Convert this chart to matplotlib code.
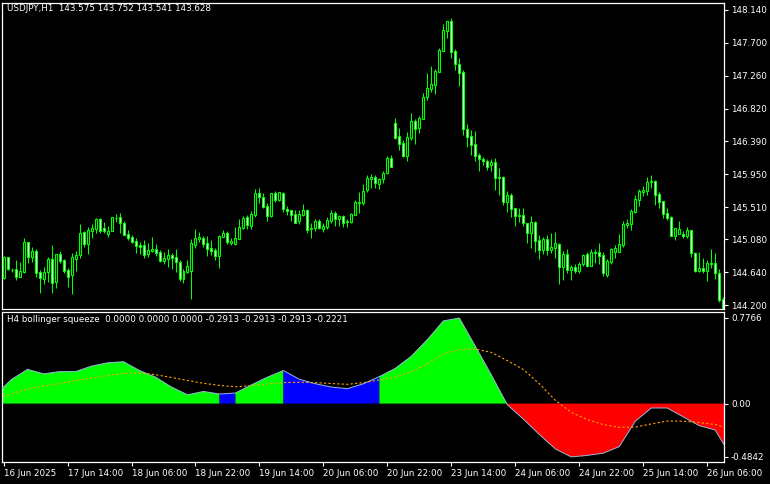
import numpy as np
import matplotlib.pyplot as plt

# ---------------- price data (USDJPY H1) ----------------
opens = [144.57, 144.85, 144.67, 144.69, 144.58, 144.65, 145.05, 144.85, 144.93, 144.65,
         144.55, 144.65, 144.82, 144.51, 144.89, 144.81, 144.67, 144.61, 144.82, 144.87,
         145.18, 145.02, 145.19, 145.22, 145.35, 145.23, 145.15, 145.19, 145.37, 145.38,
         145.30, 145.15, 145.11, 145.06, 145.01, 145.01, 144.89, 144.93, 144.95, 144.91,
         144.79, 144.82, 144.87, 144.85, 144.78, 144.55, 144.65, 144.66, 145.01, 145.09,
         145.10, 145.03, 144.97, 144.94, 144.86, 145.11, 145.17, 145.03, 145.02, 145.09,
         145.23, 145.38, 145.26, 145.41, 145.70, 145.65, 145.53, 145.39, 145.70, 145.61,
         145.70, 145.49, 145.47, 145.42, 145.33, 145.41, 145.47, 145.22, 145.23, 145.33,
         145.22, 145.25, 145.33, 145.43, 145.35, 145.39, 145.31, 145.31, 145.41, 145.57,
         145.57, 145.74, 145.89, 145.91, 145.82, 145.89, 145.97, 146.17, 146.63, 146.46,
         146.37, 146.19, 146.43, 146.66, 146.57, 146.69, 146.98, 147.09, 147.14, 147.31,
         147.59, 147.86, 147.99, 147.59, 147.42, 147.31, 146.55, 146.46, 146.35, 146.21,
         146.15, 146.13, 146.07, 146.11, 145.91, 145.91, 145.58, 145.67, 145.50, 145.41,
         145.41, 145.30, 145.17, 145.31, 145.07, 144.94, 145.09, 144.94, 144.97, 145.02,
         144.71, 144.89, 144.67, 144.71, 144.66, 144.75, 144.89, 144.73, 144.91, 144.91,
         144.87, 144.61, 144.78, 144.91, 144.91, 145.01, 145.27, 145.29, 145.45, 145.61,
         145.71, 145.73, 145.85, 145.86, 145.69, 145.59, 145.43, 145.38, 145.13, 145.15,
         145.15, 145.13, 145.21, 144.90, 144.66, 144.70, 144.66, 144.75, 144.77, 144.63,
         144.29]
highs = [144.86, 144.85, 144.70, 144.81, 144.78, 145.10, 145.05, 144.98, 144.95, 144.67,
         144.71, 144.85, 145.01, 144.89, 144.93, 144.82, 144.70, 144.90, 144.93, 145.29,
         145.19, 145.25, 145.29, 145.37, 145.37, 145.31, 145.26, 145.38, 145.42, 145.43,
         145.33, 145.21, 145.14, 145.10, 145.05, 145.07, 145.03, 145.11, 145.02, 144.94,
         144.91, 144.95, 144.90, 144.95, 144.81, 144.69, 144.81, 145.09, 145.22, 145.18,
         145.13, 145.13, 145.07, 144.97, 145.14, 145.21, 145.19, 145.10, 145.25, 145.35,
         145.39, 145.41, 145.46, 145.75, 145.77, 145.70, 145.57, 145.70, 145.73, 145.71,
         145.71, 145.53, 145.47, 145.47, 145.47, 145.55, 145.49, 145.30, 145.35, 145.35,
         145.30, 145.38, 145.47, 145.46, 145.41, 145.41, 145.35, 145.43, 145.61, 145.71,
         145.82, 145.94, 145.95, 145.94, 145.90, 145.99, 146.19, 146.21, 146.70, 146.57,
         146.41, 146.51, 146.77, 146.69, 146.73, 147.03, 147.30, 147.39, 147.35, 147.63,
         147.95, 147.99, 148.03, 147.62, 147.50, 147.34, 146.62, 146.54, 146.53, 146.23,
         146.18, 146.15, 146.15, 146.17, 146.03, 145.93, 145.73, 145.70, 145.50, 145.50,
         145.50, 145.30, 145.39, 145.33, 145.14, 145.11, 145.14, 145.17, 145.18, 145.03,
         144.93, 144.95, 144.74, 144.75, 144.78, 144.89, 144.91, 144.95, 144.95, 145.03,
         144.91, 144.82, 144.97, 145.01, 145.15, 145.33, 145.35, 145.49, 145.67, 145.75,
         145.79, 145.91, 145.94, 145.87, 145.71, 145.59, 145.50, 145.39, 145.23, 145.33,
         145.19, 145.25, 145.21, 144.91, 144.91, 144.83, 144.81, 144.95, 144.90, 144.69,
         144.31]
lows = [144.55, 144.67, 144.65, 144.54, 144.58, 144.63, 144.77, 144.78, 144.58, 144.37,
        144.49, 144.51, 144.37, 144.43, 144.77, 144.63, 144.45, 144.35, 144.66, 144.83,
        144.98, 144.89, 145.10, 145.17, 145.17, 145.17, 145.11, 145.19, 145.31, 145.17,
        145.14, 145.07, 145.03, 144.90, 144.89, 144.83, 144.85, 144.91, 144.86, 144.78,
        144.75, 144.71, 144.69, 144.65, 144.53, 144.50, 144.63, 144.29, 144.97, 145.05,
        144.98, 144.86, 144.87, 144.81, 144.70, 145.11, 145.02, 145.01, 145.01, 145.09,
        145.22, 145.22, 145.22, 145.38, 145.57, 145.50, 145.33, 145.38, 145.58, 145.59,
        145.45, 145.41, 145.33, 145.30, 145.29, 145.39, 145.17, 145.10, 145.19, 145.22,
        145.18, 145.22, 145.30, 145.26, 145.26, 145.25, 145.25, 145.30, 145.41, 145.43,
        145.54, 145.71, 145.77, 145.77, 145.75, 145.83, 145.95, 146.05, 146.42, 146.27,
        146.18, 146.13, 146.41, 146.35, 146.50, 146.69, 146.94, 147.05, 147.02, 147.31,
        147.59, 147.77, 147.50, 147.34, 147.13, 146.47, 146.31, 146.21, 146.13, 145.99,
        146.07, 146.01, 145.99, 145.74, 145.67, 145.54, 145.45, 145.38, 145.26, 145.31,
        145.26, 145.03, 144.97, 144.91, 144.82, 144.89, 144.87, 144.90, 144.83, 144.49,
        144.54, 144.63, 144.54, 144.63, 144.63, 144.73, 144.71, 144.73, 144.77, 144.75,
        144.59, 144.58, 144.75, 144.83, 144.91, 144.98, 145.23, 145.21, 145.43, 145.53,
        145.66, 145.67, 145.77, 145.54, 145.50, 145.37, 145.34, 145.13, 145.07, 145.15,
        145.10, 145.10, 144.85, 144.65, 144.65, 144.63, 144.53, 144.70, 144.55, 144.25,
        144.11]
closes = [144.85, 144.69, 144.67, 144.58, 144.66, 145.05, 144.85, 144.93, 144.63, 144.57,
          144.65, 144.82, 144.50, 144.89, 144.79, 144.66, 144.58, 144.85, 144.87, 145.17,
          145.02, 145.21, 145.23, 145.35, 145.19, 145.19, 145.19, 145.38, 145.37, 145.30,
          145.14, 145.10, 145.05, 144.99, 144.98, 144.87, 144.94, 144.95, 144.90, 144.79,
          144.83, 144.87, 144.83, 144.78, 144.55, 144.66, 144.73, 145.03, 145.10, 145.11,
          145.02, 144.95, 144.93, 144.86, 145.13, 145.17, 145.05, 145.06, 145.10, 145.25,
          145.37, 145.27, 145.42, 145.70, 145.65, 145.51, 145.39, 145.70, 145.61, 145.71,
          145.49, 145.46, 145.41, 145.30, 145.42, 145.47, 145.21, 145.23, 145.33, 145.23,
          145.26, 145.34, 145.43, 145.35, 145.39, 145.30, 145.33, 145.42, 145.58, 145.58,
          145.73, 145.90, 145.91, 145.83, 145.89, 145.97, 146.17, 146.05, 146.43, 146.35,
          146.19, 146.45, 146.66, 146.55, 146.70, 146.98, 147.10, 147.15, 147.33, 147.61,
          147.87, 147.99, 147.58, 147.42, 147.30, 146.55, 146.45, 146.34, 146.19, 146.15,
          146.13, 146.05, 146.11, 145.90, 145.90, 145.58, 145.67, 145.49, 145.39, 145.39,
          145.30, 145.17, 145.31, 145.06, 144.94, 145.09, 144.94, 144.98, 145.03, 144.71,
          144.89, 144.67, 144.71, 144.66, 144.75, 144.87, 144.73, 144.91, 144.90, 144.86,
          144.63, 144.79, 144.95, 144.97, 145.02, 145.29, 145.30, 145.46, 145.62, 145.73,
          145.74, 145.85, 145.86, 145.67, 145.58, 145.42, 145.37, 145.13, 145.23, 145.22,
          145.13, 145.21, 144.90, 144.66, 144.70, 144.66, 144.77, 144.77, 144.63, 144.27,
          144.14]

price_ticks = [148.140, 147.700, 147.260, 146.820, 146.390, 145.950, 145.510, 145.080, 144.640, 144.200]

# ---------------- H4 bollinger squeeze (values at H4 bars, H1 bar index) ----------------
h4_bar = [-2, 2, 6, 10, 14, 18, 22, 26, 30, 34, 38, 42, 46, 50, 54, 58, 62, 66, 70, 74,
          78, 82, 86, 90, 94, 98, 102, 106, 110, 114, 118, 122, 126, 130, 134, 138, 142, 146,
          150, 154, 158, 162, 166, 170, 174, 178, 182]
squeeze = [0.08, 0.22, 0.31, 0.27, 0.29, 0.29, 0.34, 0.37, 0.38, 0.30, 0.24, 0.15, 0.08,
           0.11, 0.087, 0.096, 0.17, 0.24, 0.30, 0.22, 0.18, 0.15, 0.135, 0.18, 0.245, 0.32,
           0.43, 0.58, 0.75, 0.7766, 0.52, 0.26, -0.01, -0.14, -0.28, -0.41, -0.4842, -0.47,
           -0.45, -0.39, -0.16, -0.04, -0.04, -0.12, -0.20, -0.24, -0.48]
signal = [0.04, 0.09, 0.13, 0.16, 0.18, 0.21, 0.23, 0.255, 0.273, 0.278, 0.262, 0.237, 0.21,
          0.184, 0.165, 0.153, 0.163, 0.178, 0.19, 0.194, 0.19, 0.182, 0.175, 0.19, 0.215,
          0.24, 0.29, 0.36, 0.45, 0.49, 0.495, 0.465, 0.39, 0.31, 0.18, 0.03, -0.08, -0.145,
          -0.19, -0.215, -0.214, -0.185, -0.158, -0.16, -0.172, -0.19, -0.23]
# positive part colour per segment: 'g' = squeeze off (green), 'b' = squeeze on (blue)
seg_state = ['g'] * 14 + ['b'] + ['g'] * 3 + ['b'] * 6 + ['g'] * 22

time_ticks = [0, 16, 32, 48, 64, 80, 96, 112, 128, 144, 160, 176]
time_labels = ['16 Jun 2025', '17 Jun 14:00', '18 Jun 06:00', '18 Jun 22:00', '19 Jun 14:00',
               '20 Jun 06:00', '20 Jun 22:00', '23 Jun 14:00', '24 Jun 06:00', '24 Jun 22:00',
               '25 Jun 14:00', '26 Jun 06:00']

#################################
W, H = 770, 484
plt.rcParams['font.family'] = ['DejaVu Sans']
fig = plt.figure(figsize=(W / 100, H / 100), dpi=100, facecolor='black')
ax1 = fig.add_axes([2 / W, 1 - 309 / H, 722 / W, 306 / H])
ax2 = fig.add_axes([2 / W, 1 - 462 / H, 722 / W, 150 / H])
lime = '#00ff00'
fs = 6.3

for ax in (ax1, ax2):
    ax.set_facecolor('black')
    for s in ax.spines.values():
        s.set_color('white')
        s.set_linewidth(0.9)
    ax.yaxis.tick_right()
    ax.tick_params(axis='y', colors='white', labelsize=fs, length=3, width=0.8, pad=2)
    ax.set_xlim(-0.4, 180.2)

# candles
x = np.arange(len(closes))
o = np.array(opens)
c = np.array(closes)
ax1.vlines(x, lows, highs, color=lime, linewidth=0.75, zorder=2)
fill = np.where(c >= o, 'black', 'white')
ax1.bar(x, c - o, bottom=o, width=0.5, color=fill, edgecolor=lime, linewidth=0.8, zorder=3)
ax1.set_ylim(144.153, 148.233)
ax1.set_yticks(price_ticks)
ax1.set_yticklabels(['%.3f' % v for v in price_ticks])
ax1.set_xticks([])
fig.text(7 / W, 1 - 4 / H, 'USDJPY,H1  143.575 143.752 143.541 143.628', color='white',
         fontsize=fs, va='top', ha='left')

# indicator: fill runs of same colour in one go
colors = {'g': lime, 'b': '#0000ff'}
start = 0
for i in range(1, len(seg_state) + 1):
    if i == len(seg_state) or seg_state[i] != seg_state[start]:
        xs = np.array(h4_bar[start:i + 1])
        ys = np.array(squeeze[start:i + 1])
        col = colors[seg_state[start]]
        if ys.max() > 0:
            ax2.fill_between(xs, ys, 0, where=ys >= 0, interpolate=True, facecolor=col,
                             edgecolor='none', zorder=2)
        if ys.min() < 0:
            ax2.fill_between(xs, ys, 0, where=ys <= 0, interpolate=True, facecolor='#ff0000',
                             edgecolor='none', zorder=2)
        start = i
ax2.plot(h4_bar, squeeze, color='#9ab8d8', linewidth=0.7, zorder=3)
ax2.plot(h4_bar, signal, color='#ffa500', linewidth=0.8, linestyle=(0, (2, 2)), zorder=4)
ax2.set_ylim(-0.530, 0.831)
ax2.set_yticks([0.7766, 0.0, -0.4842])
ax2.set_yticklabels(['0.7766', '0.00', '-0.4842'])
ax2.set_xticks(time_ticks)
ax2.set_xticklabels(time_labels, ha='left')
ax2.tick_params(axis='x', colors='white', labelsize=fs, length=3, width=0.8, pad=2)
fig.text(7 / W, 1 - 315 / H,
         'H4 bollinger squeeze  0.0000 0.0000 0.0000 -0.2913 -0.2913 -0.2913 -0.2221',
         color='white', fontsize=fs, va='top', ha='left')

fig.savefig('out.png', dpi=100, facecolor='black')
